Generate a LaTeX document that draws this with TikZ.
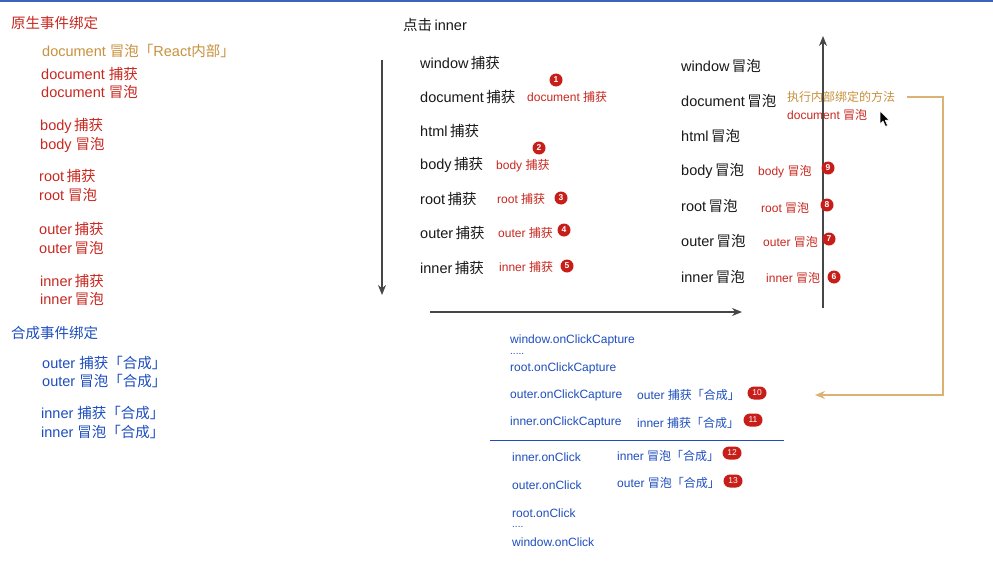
\documentclass[tikz,border=0pt]{standalone}
\usepackage{fontspec}
\setmainfont{Liberation Sans}
\newfontfamily\cjk{Noto Sans CJK SC}
\newcommand\zh[1]{{\cjk #1}}
\definecolor{cred}{RGB}{200,40,32}
\definecolor{corange}{RGB}{200,145,60}
\definecolor{cblue}{RGB}{30,78,190}
\definecolor{cblack}{RGB}{25,25,25}
\definecolor{cgrey}{RGB}{70,70,70}
\definecolor{cline}{RGB}{220,178,115}
\definecolor{cbadge}{RGB}{200,30,25}
\definecolor{ctop}{RGB}{60,100,190}
\tikzset{
  lbl/.style={anchor=west,inner sep=0pt,font=\fontsize{14.5}{16}\selectfont},
  big/.style={lbl,text=cblack},
  redl/.style={lbl,text=cred},
  orl/.style={lbl,text=corange},
  bluel/.style={lbl,text=cblue},
  smred/.style={anchor=west,inner sep=0pt,text=cred,font=\fontsize{12}{13}\selectfont},
  smor/.style={anchor=west,inner sep=0pt,text=corange,font=\fontsize{12}{13}\selectfont},
  smblue/.style={anchor=west,inner sep=0pt,text=cblue,font=\fontsize{12}{13}\selectfont},
  dots/.style={anchor=west,inner sep=0pt,text=cblue,font=\fontsize{10}{10}\selectfont},
  badge/.style={circle,fill=cbadge,text=white,inner sep=0pt,minimum size=13pt,font=\fontsize{8.5}{9}\selectfont\bfseries},
  pill/.style={rectangle,rounded corners=6.5pt,fill=cbadge,text=white,inner sep=0pt,minimum width=19pt,minimum height=13pt,font=\fontsize{8.5}{9}\selectfont},
  flow/.style={draw=cgrey,line width=1.4pt,-{Stealth[length=10pt,width=8pt]}},
  orflow/.style={draw=cline,line width=1.4pt,-{Stealth[length=10pt,width=8pt]}},
}
\usetikzlibrary{arrows.meta}
\begin{document}
\begin{tikzpicture}[x=1pt,y=-1pt]
\useasboundingbox (0,0) rectangle (993,586);
\fill[white] (0,0) rectangle (993,586);
\fill[ctop] (0,0) rectangle (993,2);

% left column
\node[redl] (h1) at (11,23) {\zh{原生事件绑定}};
\node[orl] (l0) at (42,51) {document \zh{冒泡「}React\zh{内部」}};
\node[redl] (l1) at (41,74) {document \zh{捕获}};
\node[redl] (l2) at (41,92) {document \zh{冒泡}};
\node[redl] (l3) at (40,126) {body\,\zh{捕获}};
\node[redl] (l4) at (40,145) {body \zh{冒泡}};
\node[redl] (l5) at (39,176) {root\,\zh{捕获}};
\node[redl] (l6) at (39,195) {root \zh{冒泡}};
\node[redl] (l7) at (39,229) {outer\,\zh{捕获}};
\node[redl] (l8) at (39,248) {outer\,\zh{冒泡}};
\node[redl] (l9) at (40,281) {inner\,\zh{捕获}};
\node[redl] (l10) at (40,299) {inner\,\zh{冒泡}};
\node[bluel] (h2) at (11,333) {\zh{合成事件绑定}};
\node[bluel] (s1) at (42,363) {outer \zh{捕获「合成」}};
\node[bluel] (s2) at (42,381) {outer \zh{冒泡「合成」}};
\node[bluel] (s3) at (41,413) {inner \zh{捕获「合成」}};
\node[bluel] (s4) at (41,432) {inner \zh{冒泡「合成」}};

% middle column
\node[big] (click) at (403,25) {\zh{点击}\,inner};
\coordinate (dtop) at (382,60);
\coordinate (dbot) at (382,295);
\draw[flow] (dtop) -- (dbot);
\node[big] (c1) at (420,63) {window\,\zh{捕获}};
\node[big] (c2) at (420,97) {document\,\zh{捕获}};
\node[big] (c3) at (420,131) {html\,\zh{捕获}};
\node[big] (c4) at (420,165) {body\,\zh{捕获}};
\node[big] (c5) at (420,199) {root\,\zh{捕获}};
\node[big] (c6) at (420,233) {outer\,\zh{捕获}};
\node[big] (c7) at (420,268) {inner\,\zh{捕获}};

\node[smred] (r1) at (527,97) {document \zh{捕获}};
\node[badge] (b1) at (556,80) {1};
\node[smred] (r2) at (496,166) {body \zh{捕获}};
\node[badge] (b2) at (539,148) {2};
\node[smred] (r3) at (497,199) {root \zh{捕获}};
\node[badge] (b3) at (561,198) {3};
\node[smred] (r4) at (498,233) {outer \zh{捕获}};
\node[badge] (b4) at (564,230) {4};
\node[smred] (r5) at (499,267) {inner \zh{捕获}};
\node[badge] (b5) at (567,266) {5};

\coordinate (hl) at (430,312);
\coordinate (hr) at (742,312);
\draw[flow] (hl) -- (hr);

% right column
\coordinate (ubot) at (823,308);
\coordinate (utop) at (823,36);
\draw[flow] (ubot) -- (utop);
\node[big] (u1) at (681,66) {window\,\zh{冒泡}};
\node[big] (u2) at (681,101) {document\,\zh{冒泡}};
\node[big] (u3) at (681,136) {html\,\zh{冒泡}};
\node[big] (u4) at (681,171) {body\,\zh{冒泡}};
\node[big] (u5) at (681,206) {root\,\zh{冒泡}};
\node[big] (u6) at (681,241) {outer\,\zh{冒泡}};
\node[big] (u7) at (681,277) {inner\,\zh{冒泡}};

\node[smor] (exec) at (787,97) {\zh{执行内部绑定的方法}};
\node[smred] (rd) at (787,115) {document \zh{冒泡}};
\node[smred] (q4) at (758,172) {body \zh{冒泡}};
\node[badge] (b9) at (828,168) {9};
\node[smred] (q5) at (761,208) {root \zh{冒泡}};
\node[badge] (b8) at (827,205) {8};
\node[smred] (q6) at (763,242) {outer \zh{冒泡}};
\node[badge] (b7) at (829,239) {7};
\node[smred] (q7) at (766,278) {inner \zh{冒泡}};
\node[badge] (b6) at (834,277) {6};

% cursor
\filldraw[fill=black,draw=white,line width=0.6pt,line join=round]
  (880,111) -- (880,124) -- (883,121) -- (885.5,126.5) -- (887.5,125.5) -- (885.2,120.2) -- (889,120) -- cycle;

% orange connector
\coordinate (o1) at (943,97);
\coordinate (o2) at (943,395);
\coordinate (o3) at (815,395);
\draw[orflow] ([xshift=12pt]exec.east) -- (o1) -- (o2) -- (o3);

% bottom synthetic list
\node[smblue] (w1) at (510,340) {window.onClickCapture};
\node[dots] (w2) at (510,354) {.....};
\node[smblue] (w3) at (510,368) {root.onClickCapture};
\node[smblue] (w4) at (510,395) {outer.onClickCapture};
\node[smblue] (w4b) at (637,395) {outer \zh{捕获「合成」}};
\node[pill] (p10) at (757,393) {10};
\node[smblue] (w5) at (510,422) {inner.onClickCapture};
\node[smblue] (w5b) at (637,423) {inner \zh{捕获「合成」}};
\node[pill] (p11) at (753,420) {11};
\coordinate (sl) at (490,440);
\coordinate (sr) at (784,440);
\draw[cblue,line width=0.8pt] (sl) -- (sr);
\node[smblue] (w6) at (512,457) {inner.onClick};
\node[smblue] (w6b) at (617,456) {inner \zh{冒泡「合成」}};
\node[pill] (p12) at (732,453) {12};
\node[smblue] (w7) at (512,485) {outer.onClick};
\node[smblue] (w7b) at (617,483) {outer \zh{冒泡「合成」}};
\node[pill] (p13) at (733,481) {13};
\node[smblue] (w8) at (512,513) {root.onClick};
\node[dots] (w9) at (512,527) {....};
\node[smblue] (w10) at (512,542) {window.onClick};
\end{tikzpicture}
\end{document}
